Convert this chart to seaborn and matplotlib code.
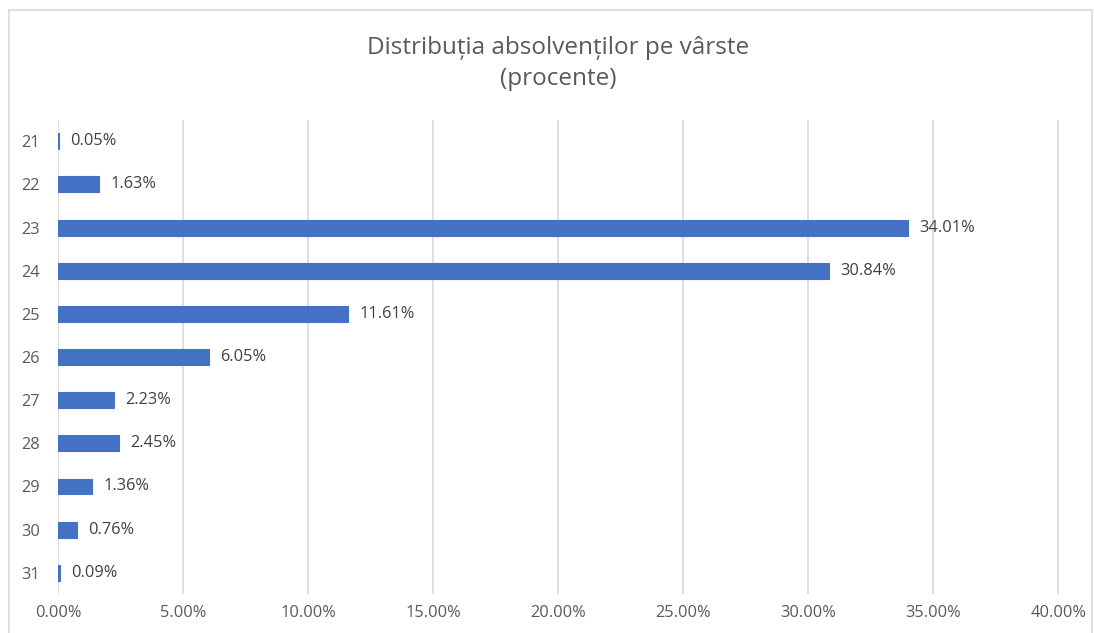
import pandas as pd
import seaborn as sns
import matplotlib.pyplot as plt
from matplotlib.patches import Rectangle
from matplotlib.ticker import FuncFormatter

ages = ["21", "22", "23", "24", "25", "26", "27", "28", "29", "30", "31"]
percents = [0.05, 1.63, 34.01, 30.84, 11.61, 6.05, 2.23, 2.45, 1.36, 0.76, 0.09]
x_ticks = [0, 5, 10, 15, 20, 25, 30, 35, 40]

df = pd.DataFrame({"age": ages, "pct": percents})

sns.set_style("white")
plt.rcParams["font.family"] = ["Open Sans", "DejaVu Sans"]
text_color = "#595959"
bar_color = "#4472C4"

fig = plt.figure(figsize=(10.94, 6.33), dpi=100)
ax = fig.add_axes([0.053, 0.061, 0.915, 0.750])

# thin edge in the bar colour so the tiny bars (21, 31) stay visible
sns.barplot(data=df, x="pct", y="age", orient="h", color=bar_color,
            saturation=1, width=0.37, linewidth=0.8, edgecolor=bar_color, ax=ax)

# value labels
for i, v in enumerate(percents):
    ax.text(v + 0.45, i, f"{v:.2f}%", va="center", ha="left",
            fontsize=11.8, color="#404040")

ax.set_xlim(0, 40.03)
ax.set_ylim(10.5, -0.5)
ax.set_xticks(x_ticks)
ax.xaxis.set_major_formatter(FuncFormatter(lambda x, _: f"{x:.2f}%"))
ax.grid(axis="x", color="#d9d9d9", linewidth=1.2)
ax.set_axisbelow(True)
for s in ax.spines.values():
    s.set_visible(False)
ax.tick_params(axis="both", length=0, labelsize=11.8, labelcolor=text_color)
ax.tick_params(axis="x", pad=8)
ax.tick_params(axis="y", pad=13)
ax.set_xlabel("")
ax.set_ylabel("")

ax.set_title("Distribuția absolvenților pe vârste\n(procente)", fontsize=17.5,
             color=text_color, pad=25, linespacing=1.4)

# chart border
fig.patches.append(Rectangle((9 / 1094, -0.01), 1083 / 1094, 1 - 10 / 633 + 0.01,
                             transform=fig.transFigure, fill=False,
                             edgecolor="#d9d9d9", linewidth=1.2))

fig.savefig("out.png", dpi=100)
